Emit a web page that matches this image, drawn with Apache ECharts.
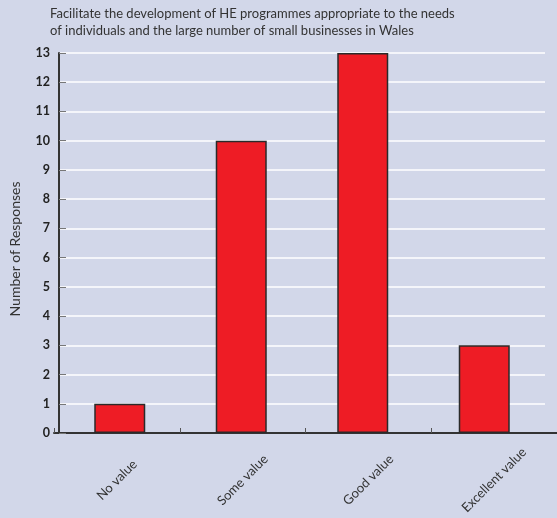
<!DOCTYPE html>
<html>
<head>
<meta charset="utf-8">
<script src="https://cdn.jsdelivr.net/npm/echarts@6/dist/echarts.min.js"></script>
<style>
  html, body { margin: 0; padding: 0; background: #d2d7e9; }
  #chart { width: 557px; height: 518px; }
</style>
</head>
<body>
<div id="chart"></div>
<script>
// Survey responses per value rating
const categories = ['No value', 'Some value', 'Good value', 'Excellent value'];
const responses = [1, 10, 13, 3];
const yTicks = [0, 1, 2, 3, 4, 5, 6, 7, 8, 9, 10, 11, 12, 13];

const titleLines = [
  'Facilitate the development of HE programmes appropriate to the needs',
  'of individuals and the large number of small businesses in Wales'
];

const yMin = yTicks[0];
const yMax = yTicks[yTicks.length - 1];

const chart = echarts.init(document.getElementById('chart'));
chart.setOption({
  backgroundColor: '#d2d7e9',
  animation: false,
  title: {
    text: titleLines.join('\n'),
    left: 45,
    top: 0,
    textStyle: {
      fontFamily: 'Lato',
      fontSize: 13,
      fontWeight: 'normal',
      color: '#333',
      lineHeight: 17
    }
  },
  grid: [
    // plotting area for the bars and gridlines
    { left: 54, right: 12, top: 53, bottom: 85 },
    // full-width baseline carrying the category ticks and labels
    { left: 54, right: 0, top: 53, bottom: 85 }
  ],
  xAxis: [
    {
      type: 'category',
      gridIndex: 0,
      data: categories,
      axisLine: { show: false },
      axisTick: { show: false },
      axisLabel: { show: false }
    },
    {
      type: 'category',
      gridIndex: 1,
      data: categories,
      axisLine: { lineStyle: { color: '#333', width: 2 } },
      axisTick: { show: true, inside: true, length: 5, lineStyle: { color: '#555' } },
      axisLabel: {
        rotate: 45,
        margin: 47,
        align: 'center',
        verticalAlign: 'middle',
        fontFamily: 'Lato',
        fontSize: 13,
        color: '#333'
      }
    }
  ],
  yAxis: [
    {
      type: 'value',
      gridIndex: 0,
      min: yMin,
      max: yMax,
      interval: 1,
      name: 'Number of Responses',
      nameLocation: 'middle',
      nameGap: 37,
      nameTextStyle: { fontFamily: 'Lato', fontSize: 14, color: '#333', padding: [0, 12, 0, 0] },
      axisLine: { show: true, lineStyle: { color: '#333', width: 2 } },
      axisTick: { show: true, inside: true, length: 7, lineStyle: { color: '#777' } },
      axisLabel: {
        fontFamily: 'Lato',
        fontSize: 12.5,
        fontWeight: 'bold',
        color: '#222',
        margin: 9
      },
      splitLine: { show: true, lineStyle: { color: '#ffffff', width: 1.5 } }
    },
    {
      type: 'value',
      gridIndex: 1,
      min: yMin,
      max: yMax,
      interval: 1,
      show: false
    }
  ],
  series: [{
    type: 'bar',
    xAxisIndex: 0,
    yAxisIndex: 0,
    data: responses,
    barWidth: 51,
    itemStyle: { color: '#ee1c25', borderColor: '#2a2a2a', borderWidth: 1.5 }
  }]
});
</script>
</body>
</html>
